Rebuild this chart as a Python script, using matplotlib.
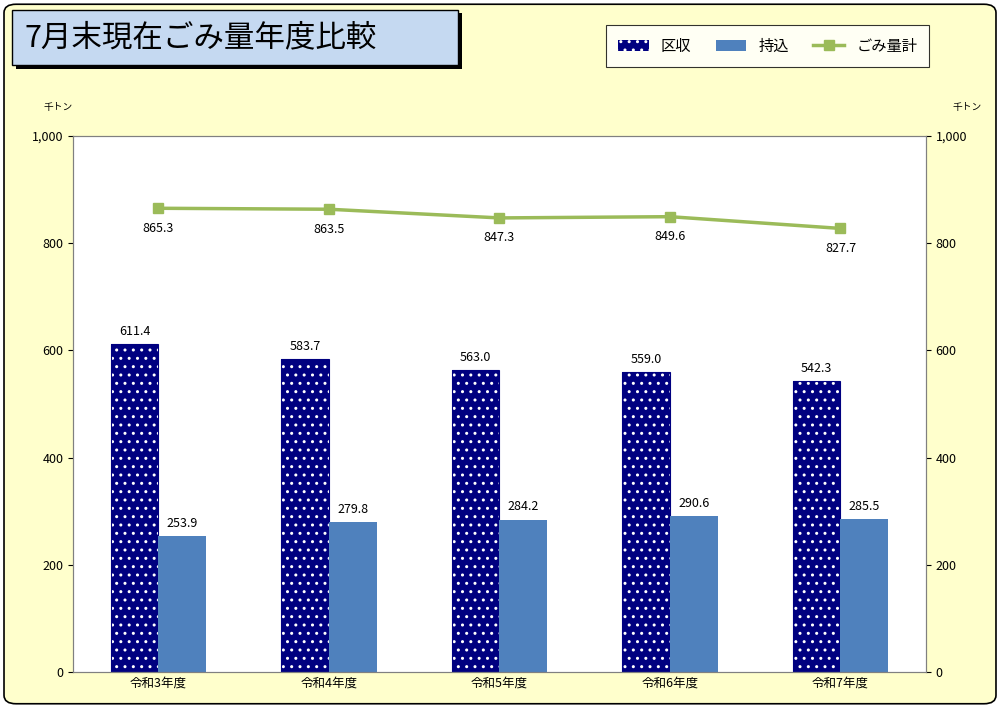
import numpy as np
import matplotlib.pyplot as plt
from matplotlib.patches import FancyBboxPatch, Rectangle

plt.rcParams['font.family'] = 'Noto Sans CJK JP'
plt.rcParams['hatch.linewidth'] = 1.0

# Data
categories = ['令和3年度', '令和4年度', '令和5年度', '令和6年度', '令和7年度']
kushu = [611.4, 583.7, 563.0, 559.0, 542.3]
mochikomi = [253.9, 279.8, 284.2, 290.6, 285.5]
total = [865.3, 863.5, 847.3, 849.6, 827.7]
yticks = [0, 200, 400, 600, 800, 1000]
yticklabels = ['0', '200', '400', '600', '800', '1,000']

fig = plt.figure(figsize=(10.02, 7.08), dpi=100)
fig.patch.set_facecolor('white')
bg = FancyBboxPatch((0.004, 0.006), 0.99, 0.988, boxstyle='round,pad=0,rounding_size=0.012',
                    transform=fig.transFigure, facecolor='#FFFFCC', edgecolor='black', lw=1.2, zorder=-5)
fig.patches.append(bg)

ax = fig.add_axes([0.0729, 0.0508, 0.851, 0.757])
ax.set_facecolor('white')
x = np.arange(len(categories))
w = 0.28
b1 = ax.bar(x - w / 2, kushu, w, facecolor='#000080', edgecolor='white', hatch='..', lw=0)
ax.bar(x - w / 2, kushu, w, facecolor='none', edgecolor='#000080', lw=0.8)
b2 = ax.bar(x + w / 2, mochikomi, w, color='#4F81BD')
line, = ax.plot(x, total, color='#9BBB59', lw=2.5, marker='s', ms=7)

for i in range(len(x)):
    ax.text(x[i] - w / 2, kushu[i] + 12, f'{kushu[i]:.1f}', ha='center', va='bottom', fontsize=9)
    ax.text(x[i] + w / 2, mochikomi[i] + 12, f'{mochikomi[i]:.1f}', ha='center', va='bottom', fontsize=9)
    ax.text(x[i], total[i] - 25, f'{total[i]:.1f}', ha='center', va='top', fontsize=9)

ax.set_xlim(-0.5, len(x) - 0.5)
ax.set_ylim(0, 1000)
ax.set_yticks(yticks)
ax.set_yticklabels(yticklabels, fontsize=9)
ax.set_xticks(x)
ax.set_xticklabels(categories, fontsize=9)
ax.tick_params(axis='x', length=0)
ax2 = ax.twinx()
ax2.set_ylim(0, 1000)
ax2.set_yticks(yticks)
ax2.set_yticklabels(yticklabels, fontsize=9)
for a in (ax, ax2):
    for s in a.spines.values():
        s.set_color('#808080')

fig.text(0.058, 0.845, '千トン', fontsize=7, ha='center')
fig.text(0.965, 0.845, '千トン', fontsize=7, ha='center')

# Title box
fig.patches.append(Rectangle((0.016, 0.903), 0.445, 0.078, transform=fig.transFigure,
                             facecolor='black', edgecolor='none'))
fig.patches.append(Rectangle((0.012, 0.908), 0.445, 0.078, transform=fig.transFigure,
                             facecolor='#C5D9F1', edgecolor='black', lw=1))
fig.text(0.024, 0.947, '7月末現在ごみ量年度比較', fontsize=22, va='center')

# Legend
h1 = Rectangle((0, 0), 1, 1, facecolor='#000080', edgecolor='white', hatch='..', lw=0)
h2 = Rectangle((0, 0), 1, 1, facecolor='#4F81BD')
leg = fig.legend([h1, h2, line], ['区収', '持込', 'ごみ量計'], loc='upper left',
                 bbox_to_anchor=(0.597, 0.975), ncol=3, frameon=True, fancybox=False,
                 edgecolor='black', fontsize=11, handlelength=2, borderpad=0.8, columnspacing=1.6)
leg.get_frame().set_linewidth(0.8)

fig.savefig('out.png', dpi=100, facecolor=fig.get_facecolor())
